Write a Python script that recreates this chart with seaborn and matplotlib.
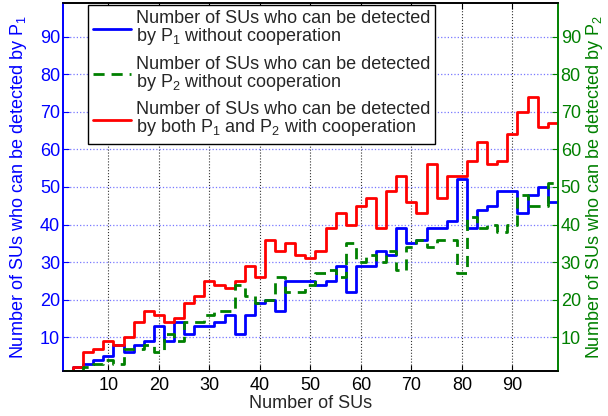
import matplotlib
matplotlib.use('Agg')
import matplotlib.pyplot as plt
import seaborn as sns

sns.set_style('ticks')
plt.rcParams['font.family'] = ['Liberation Sans', 'DejaVu Sans']
plt.rcParams['mathtext.default'] = 'regular'
plt.rc('font', size=13)

blue = '#0000ff'
green = '#008000'
red = '#ff0000'

# number of SUs (x), one step every 2 SUs
n_sus = list(range(1, 100, 2))
# SUs detected by P1 alone
p1_alone = [1, 2, 3, 4, 5, 8, 6, 8, 9, 13, 9, 14, 11, 13, 13, 14, 16, 11, 16, 19,
            20, 17, 25, 25, 25, 24, 25, 29, 22, 29, 29, 33, 32, 39, 35, 36, 39, 39, 41, 52,
            39, 44, 45, 49, 49, 43, 48, 50, 46, 46]
# SUs detected by P2 alone
p2_alone = [1, 1, 2, 3, 4, 3, 7, 7, 8, 6, 11, 9, 14, 14, 16, 17, 17, 24, 21, 19,
            20, 26, 22, 22, 24, 27, 28, 26, 35, 30, 32, 30, 33, 28, 34, 36, 34, 36, 36, 27,
            42, 39, 40, 38, 40, 48, 45, 45, 51, 51]
# SUs detected by both with cooperation
both_coop = [1, 2, 6, 7, 9, 8, 10, 14, 17, 16, 14, 15, 19, 21, 25, 24, 23, 25, 29, 26,
             36, 33, 35, 32, 31, 33, 39, 43, 40, 45, 47, 39, 49, 53, 46, 43, 56, 47, 53, 53,
             57, 62, 56, 57, 64, 70, 74, 66, 67, 67]

labels = ['Number of SUs who can be detected\nby P$_1$ without cooperation',
          'Number of SUs who can be detected\nby P$_2$ without cooperation',
          'Number of SUs who can be detected\nby both P$_1$ and P$_2$ with cooperation']

fig = plt.figure(figsize=(6.08, 4.16), dpi=100)
ax = fig.add_axes([0.1036, 0.108, 0.814, 0.885])
ax2 = ax.twinx()

sns.lineplot(x=n_sus, y=p1_alone, ax=ax, color=blue, lw=2, drawstyle='steps-post',
             estimator=None, legend=False)
sns.lineplot(x=n_sus, y=both_coop, ax=ax, color=red, lw=2, drawstyle='steps-post',
             estimator=None, legend=False)
sns.lineplot(x=n_sus, y=p2_alone, ax=ax2, color=green, lw=2, drawstyle='steps-post',
             estimator=None, legend=False)
ax2.get_lines()[0].set_dashes([4, 2.5])

for a in (ax, ax2):
    a.set_xlim(1, 99)
    a.set_ylim(1, 99)

ticks = list(range(10, 100, 10))
ax.set_xticks(ticks)
ax.set_yticks(ticks)
ax2.set_yticks(ticks)

ax.xaxis.grid(True, linestyle=':', color='#333333', lw=0.8)
ax.yaxis.grid(True, linestyle=':', color='#7777ff', lw=0.9)

ax.tick_params(axis='x', direction='in', top=True, length=4, colors='k', labelsize=13, pad=4)
ax.tick_params(axis='y', direction='in', length=4, colors=blue, labelsize=13, pad=2)
ax2.tick_params(axis='y', direction='in', length=4, colors=green, labelsize=13, pad=2)

for a in (ax, ax2):
    a.spines['left'].set_color(blue)
    a.spines['right'].set_color(green)
    a.spines['top'].set_color('k')
    a.spines['bottom'].set_color('k')
    for s in a.spines.values():
        s.set_linewidth(1.2)

ax.set_xlabel('Number of SUs', fontsize=13, labelpad=1)
ax.set_ylabel('Number of SUs who can be detected by P$_1$', color=blue, fontsize=13, labelpad=8)
ax2.set_ylabel('Number of SUs who can be detected by P$_2$', color=green, fontsize=13, labelpad=2)

handles = [ax.get_lines()[0], ax2.get_lines()[0], ax.get_lines()[1]]
leg = ax2.legend(handles, labels, loc='upper left', bbox_to_anchor=(0.05, 0.995),
                 fontsize=13, frameon=True, fancybox=False, edgecolor='k',
                 handlelength=2.1, handletextpad=0.25, labelspacing=0.45,
                 borderpad=0.3, borderaxespad=0)
for t in leg.get_texts():
    t.set_linespacing(0.95)
leg.get_frame().set_linewidth(1.0)
leg.get_frame().set_alpha(1)

fig.savefig('out.png', dpi=100)
